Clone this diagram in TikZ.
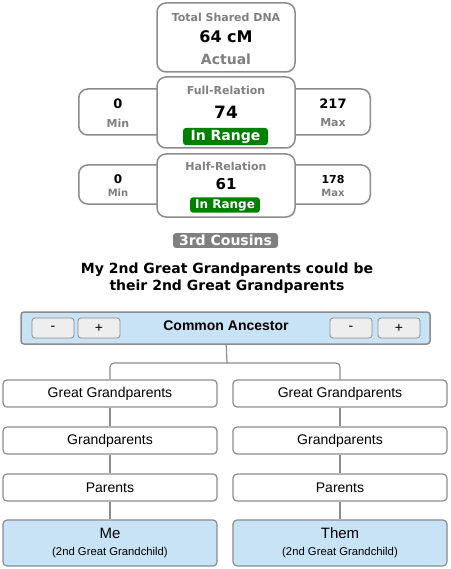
\documentclass[tikz,border=0pt]{standalone}
\usepackage{fontspec}
\setmainfont{Liberation Sans}
\newfontfamily\verd{DejaVu Sans}
\definecolor{edgegray}{HTML}{8C8C8C}
\definecolor{txtgray}{HTML}{808080}
\definecolor{okgreen}{HTML}{008000}
\definecolor{lightblue}{HTML}{C8E2F6}
\definecolor{btngray}{HTML}{EEEEEE}
\newcommand{\fsz}[1]{\fontsize{#1}{#1}\selectfont}
\tikzset{
  card/.style={draw=edgegray, line width=1.5pt, rounded corners=9pt, fill=white, inner sep=0pt},
  sidecard/.style={card, minimum width=120pt},
  gray label/.style={text=txtgray, font=\verd\bfseries\fsz{11}},
  big num/.style={font=\verd\bfseries\fsz{#1}},
  badge/.style={fill=#1, rounded corners=3pt, text=white, inner xsep=5pt, inner ysep=2pt},
  treebox/.style={draw=edgegray, line width=1.2pt, rounded corners=4pt, fill=white, minimum width=214pt, minimum height=27pt, inner sep=0pt, font=\fsz{14}},
  btn/.style={draw=edgegray, line width=0.8pt, rounded corners=3pt, fill=btngray, minimum width=42pt, minimum height=20pt, inner sep=0pt, font=\fsz{14}},
  link/.style={draw=edgegray, line width=1.2pt}
}
\begin{document}
\begin{tikzpicture}[x=1pt,y=-1pt]
  \useasboundingbox (0,0) rectangle (450,569);

  % total shared
  \node[card, minimum width=138pt, minimum height=69pt] (total) at (226,37.5) {};
  \node[gray label] (totaltitle) at (226,17) {Total Shared DNA};
  \node[big num=16] (totalval) at (226,37) {64 cM};
  \node[gray label, font=\verd\bfseries\fsz{14}] (actual) at (226,59) {Actual};

  % full relation
  \node[sidecard, minimum height=46pt, anchor=west] (fullmin) at (78,112) {};
  \node[sidecard, minimum height=46pt, anchor=east] (fullmax) at (371,112) {};
  \node[card, minimum width=138pt, minimum height=71pt] (full) at (226,112.5) {};
  \node[big num=13] (fullminval) at (118,104) {0};
  \node[gray label] (fullminlbl) at (118,123) {Min};
  \node[big num=13] (fullmaxval) at (333,104) {217};
  \node[gray label] (fullmaxlbl) at (333,123) {Max};
  \node[gray label] (fulltitle) at (226,90) {Full-Relation};
  \node[big num=17] (fullval) at (226,112) {74};
  \node[badge=okgreen, font=\verd\bfseries\fsz{14}, minimum width=85pt] (fullok) at (225.5,136.5) {In Range};

  % half relation
  \node[sidecard, minimum height=39pt, anchor=west] (halfmin) at (78,184.5) {};
  \node[sidecard, minimum height=39pt, anchor=east] (halfmax) at (371,184.5) {};
  \node[card, minimum width=138pt, minimum height=63pt] (half) at (226,185.5) {};
  \node[big num=12] (halfminval) at (118,179) {0};
  \node[gray label, font=\verd\bfseries\fsz{10}] (halfminlbl) at (118,193) {Min};
  \node[big num=11] (halfmaxval) at (333,179) {178};
  \node[gray label, font=\verd\bfseries\fsz{10}] (halfmaxlbl) at (333,193) {Max};
  \node[gray label] (halftitle) at (226,166) {Half-Relation};
  \node[big num=15] (halfval) at (226,184) {61};
  \node[badge=okgreen, font=\verd\bfseries\fsz{12}, minimum width=68pt] (halfok) at (225,205) {In Range};

  % relationship
  \node[badge=txtgray, font=\verd\bfseries\fsz{14}, minimum width=105pt] (cousins) at (225.5,240.5) {3rd Cousins};
  \node[font=\verd\bfseries\fsz{14}, align=center] (headline) at (227,278.5)
    {My 2nd Great Grandparents could be\\[3pt]their 2nd Great Grandparents};

  % common ancestor bar
  \node[draw=edgegray, line width=1.5pt, rounded corners=3pt, fill=lightblue, minimum width=409pt, minimum height=32pt, inner sep=0pt] (ancestor) at (225.5,328) {};
  \node[font=\bfseries\fsz{14}] (ancestorlbl) at (226,326) {Common Ancestor};
  \node[btn] (minusl) at (53,328) {-};
  \node[btn] (plusl) at (99,328) {+};
  \node[btn] (minusr) at (351,328) {-};
  \node[btn] (plusr) at (399,328) {+};

  % my side
  \node[treebox] (ggme) at (110,393.5) {Great Grandparents};
  \node[treebox] (gme) at (110,440.5) {Grandparents};
  \node[treebox] (pme) at (110,487.5) {Parents};
  \node[treebox, fill=lightblue, minimum height=46pt] (me) at (110,543) {};
  \node[font=\fsz{15}] (melbl) at (110,533) {Me};
  \node[font=\fsz{11.3}] (mesub) at (110,553) {(2nd Great Grandchild)};

  % their side
  \node[treebox] (ggthem) at (340,393.5) {Great Grandparents};
  \node[treebox] (gthem) at (340,440.5) {Grandparents};
  \node[treebox] (pthem) at (340,487.5) {Parents};
  \node[treebox, fill=lightblue, minimum height=46pt] (them) at (340,543) {};
  \node[font=\fsz{15}] (themlbl) at (340,533) {Them};
  \node[font=\fsz{11.3}] (themsub) at (340,553) {(2nd Great Grandchild)};

  \coordinate (fork) at (227,363);
  \draw[link] (ancestor) -- (fork);
  \draw[link, rounded corners=4pt] (ggme.north) -- (ggme.north |- fork) -- (ggthem.north |- fork) -- (ggthem.north);
  \draw[link] (ggme) -- (gme) (gme) -- (pme) (pme) -- (me);
  \draw[link] (ggthem) -- (gthem) (gthem) -- (pthem) (pthem) -- (them);
\end{tikzpicture}
\end{document}
